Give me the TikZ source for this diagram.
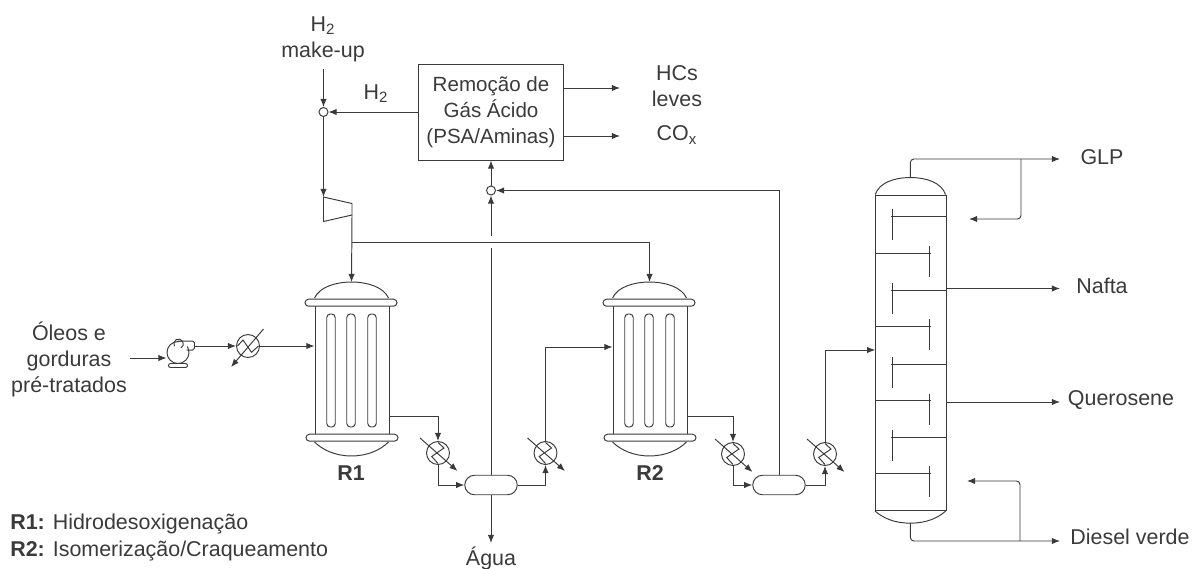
\documentclass[tikz,border=0pt]{standalone}
\usepackage{fontspec}
\setmainfont{Liberation Sans}
\usetikzlibrary{arrows.meta, shapes.misc, positioning}

\definecolor{linecol}{HTML}{3A3A3A}

\tikzset{
  flow/.style={draw=linecol, line width=0.55pt, >={Latex[length=4.6pt,width=3.6pt]}},
  lbl/.style={text=linecol, font=\fontsize{12.2}{14.8}\selectfont, align=center, inner sep=0pt},
  boldlbl/.style={lbl, font=\fontsize{12.2}{14.8}\selectfont\bfseries},
  mixer/.style={circle, draw=linecol, fill=white, line width=0.55pt, inner sep=0pt, minimum size=0.18cm},
  hxbody/.style={circle, draw=linecol, line width=0.55pt, inner sep=0pt, minimum size=0.46cm},
  sepbox/.style={rounded rectangle, draw=linecol, line width=0.55pt, inner sep=0pt, minimum width=1.05cm, minimum height=0.39cm},
  flange/.style={rounded rectangle, draw=linecol, fill=white, line width=0.55pt, inner sep=0pt, minimum width=1.84cm, minimum height=0.14cm},
  tube/.style={rounded corners=2pt, draw=linecol, line width=0.55pt, inner sep=0pt, minimum width=0.17cm, minimum height=2.26cm},
  vessel/.style={rectangle, draw=linecol, line width=0.55pt, inner sep=0pt}
}

% Reactor: name, centre x
\newcommand{\reactor}[2]{
  \node[vessel, minimum width=1.48cm, minimum height=2.7cm] (#1) at (#2,370) {};
  \node[tube] (#1a) at (#2-21,370.5) {};
  \node[tube] (#1b) at (#2-1,370.5) {};
  \node[tube] (#1c) at (#2+20,370.5) {};
  \draw[flow] (#1.north west) ++(0,-4) .. controls +(5,-11) and +(-16,0) .. ++(37,-16)
     coordinate (#1in) .. controls +(16,0) and +(-5,-11) .. ++(37,16);
  \draw[flow] (#1.south west) ++(0,4) .. controls +(8,8) and +(-16,0) .. ++(37,14)
     .. controls +(16,0) and +(-8,8) .. ++(37,-14);
  \node[flange] (#1top) at (#2-1,302.7) {};
  \node[flange] (#1bot) at (#2,437.7) {};
}

% Heat exchanger: name, x, y
\newcommand{\hx}[3]{
  \node[hxbody] (#1) at (#2,#3) {};
  \draw[flow] ([shift={(0,-10.5)}]#1.center) -- ++(6,5.5) -- ++(-12.3,8.5) -- ++(6.3,7);
  \draw[flow, ->] ([shift={(-18,-15)}]#1.center) -- ([shift={(19.5,18)}]#1.center);
}

\begin{document}
\begin{tikzpicture}[x=0.02cm, y=-0.02cm]
  \useasboundingbox (0,0) rectangle (1193,568);

  % Nodes
  \node[lbl] (mkup) at (323,39) {H\textsubscript{2}\\make-up};
  \node[lbl] (hrec) at (376,94) {H\textsubscript{2}};
  \node[draw=linecol, line width=0.55pt, lbl, font=\fontsize{11.7}{14.8}\selectfont, minimum width=2.896cm, minimum height=1.92cm] (box) at (491,112)
    {Remoção de\\Gás Ácido\\(PSA/Aminas)};
  \node[lbl] (hcs) at (677,86) {HCs\\leves};
  \node[lbl] (cox) at (677,135) {CO\textsubscript{x}};
  \node[lbl] (feed) at (69,359.5) {Óleos e\\gorduras\\pré-tratados};
  \node[lbl] (agua) at (491,558.5) {Água};
  \node[lbl] (glp) at (1102,157) {GLP};
  \node[lbl] (nafta) at (1102,286) {Nafta};
  \node[lbl] (quer) at (1121,400) {Querosene};
  \node[lbl] (dies) at (1130,537) {Diesel verde};
  \node[boldlbl] (r1lbl) at (351,473) {R1};
  \node[boldlbl] (r2lbl) at (650,473) {R2};
  \node[lbl, anchor=west] (leg1) at (10,523.5) {\textbf{R1:} Hidrodesoxigenação};
  \node[lbl, anchor=west] (leg2) at (10,551) {\textbf{R2:} Isomerização/Craqueamento};

  \node[mixer] (mix1) at (323.5,112) {};
  \node[mixer] (mix2) at (491,190.5) {};
  \node[sepbox] (sep1) at (491,485) {};
  \node[sepbox] (sep2) at (779,485) {};

  \reactor{r1}{352}
  \reactor{r2}{650}

  \hx{hx2}{438}{453}
  \hx{hx3}{545.5}{453}
  \hx{hx4}{733}{454}
  \hx{hx5}{825}{454}

  % Feed exchanger
  \node[hxbody] (hx1) at (248,346) {};
  \draw[flow] ([shift={(-10.5,0)}]hx1.center) -- ++(5.5,-6) -- ++(8.5,12.3) -- ++(7,-6.3);
  \draw[flow, ->] ([shift={(15.5,-17)}]hx1.center) -- ([shift={(-17,21)}]hx1.center);

  % Pump
  \node[circle, draw=linecol, line width=0.55pt, inner sep=0pt, minimum size=0.44cm] (pump) at (178,352.5) {};
  \draw[fill=white, draw=none] (179,342) rectangle (187,350);
  \draw[flow, rounded corners=1pt] (pump.north) -- ++(16.5,0) -- ++(0,9) -- ++(-8,0);
  \draw[flow] (181,348) arc (60:-210:4.8);
  \node[rounded rectangle, draw=linecol, line width=0.55pt, inner sep=0pt, minimum width=0.38cm, minimum height=0.08cm] (pbase) at (178,365.5) {};
  \coordinate (pumpout) at (194.5,346);

  % Compressor
  \draw[flow] (323.5,197) coordinate (compin) -- (352,203.5) -- (352,215) coordinate (compout) -- (323.5,221.5) -- cycle;

  % Column
  \node[vessel, minimum width=1.406cm, minimum height=6.314cm] (col) at (910.85,352.85) {};
  \draw[flow] (col.north west) .. controls +(4,-12) and +(-16,0) .. ++(35.15,-17) coordinate (coltop)
     .. controls +(16,0) and +(-4,-12) .. ++(35.15,17);
  \draw[flow] (col.south west) .. controls +(8,7) and +(-16,0) .. ++(35.15,12) coordinate (colbot)
     .. controls +(16,0) and +(-8,7) .. ++(35.15,-12);
  \foreach \y in {216.3,290,364,437} {
    \draw[flow] (col.east |- 0,\y) -- (891,\y);
    \draw[flow] (892.5,\y-7) -- (892.5,\y+24);
  }
  \foreach \y in {253,326,400.7,473} {
    \draw[flow] (col.west |- 0,\y) -- (930.5,\y);
    \draw[flow] (929,\y-7) -- (929,\y+24);
  }

  % Free ends
  \coordinate (mkin) at (323.5,69);
  \coordinate (hcsin) at (620,88);
  \coordinate (coxin) at (620,136);
  \coordinate (feedout) at (130,358);
  \coordinate (gapl) at (491,248);
  \coordinate (gapu) at (491,236);
  \coordinate (manif) at (352,242);
  \coordinate (r1out) at (389,416);
  \coordinate (r2out) at (687,416);
  \coordinate (glpend) at (1060,159);
  \coordinate (glpret) at (969,219);
  \coordinate (glpturn) at (1021,159);
  \coordinate (dieend) at (1060,541);
  \coordinate (dieret) at (967,481);
  \coordinate (dieturn) at (1020,541);
  \coordinate (nafend) at (1060,288.5);
  \coordinate (querend) at (1060,402);
  \coordinate (aguaend) at (491,543);

  % Edges
  \draw[flow, ->] (mkin) -- (mix1.north);
  \draw[flow, ->] (box.west |- mix1) -- (mix1.east);
  \draw[flow, ->] (mix1.south) -- (compin);
  \draw[flow, ->] (box.east |- hcsin) -- (hcsin);
  \draw[flow, ->] (box.east |- coxin) -- (coxin);
  \draw[flow, ->] (mix2.north) -- (box.south);
  \draw[flow, ->] (gapu) -- (mix2.south);
  \draw[flow] (sep1.north) -- (gapl);
  \draw[flow, ->] (sep2.north) |- (mix2.east);
  \draw[flow, ->] (compout) -- (r1in);
  \draw[flow, ->] (manif) -| (r2in);
  \draw[flow, ->] (feedout) -- (feedout -| pump.west);
  \draw[flow, ->] (pumpout) -- (hx1.west);
  \draw[flow, ->] (hx1.east) -- (hx1.east -| r1.west);
  \draw[flow, ->] (r1out) -| (hx2.north);
  \draw[flow, ->] (hx2.south) |- (sep1.west);
  \draw[flow, ->] (sep1.east) -| (hx3.south);
  \draw[flow, ->] (hx3.north) |- (r2.west |- 0,347);
  \draw[flow, ->] (r2out) -| (hx4.north);
  \draw[flow, ->] (hx4.south) |- (sep2.west);
  \draw[flow, ->] (sep2.east) -| (hx5.south);
  \draw[flow, ->] (hx5.north) |- (col.west |- 0,350);
  \draw[flow, ->] (sep1.south) -- (aguaend);
  \draw[flow, ->, rounded corners=2pt] (coltop) |- (glpend);
  \draw[flow, ->, rounded corners=2pt] (glpturn) |- (glpret);
  \draw[flow, ->] (col.east |- nafend) -- (nafend);
  \draw[flow, ->] (col.east |- querend) -- (querend);
  \draw[flow, ->, rounded corners=2pt] (colbot) |- (dieend);
  \draw[flow, ->, rounded corners=2pt] (dieturn) |- (dieret);
\end{tikzpicture}
\end{document}
